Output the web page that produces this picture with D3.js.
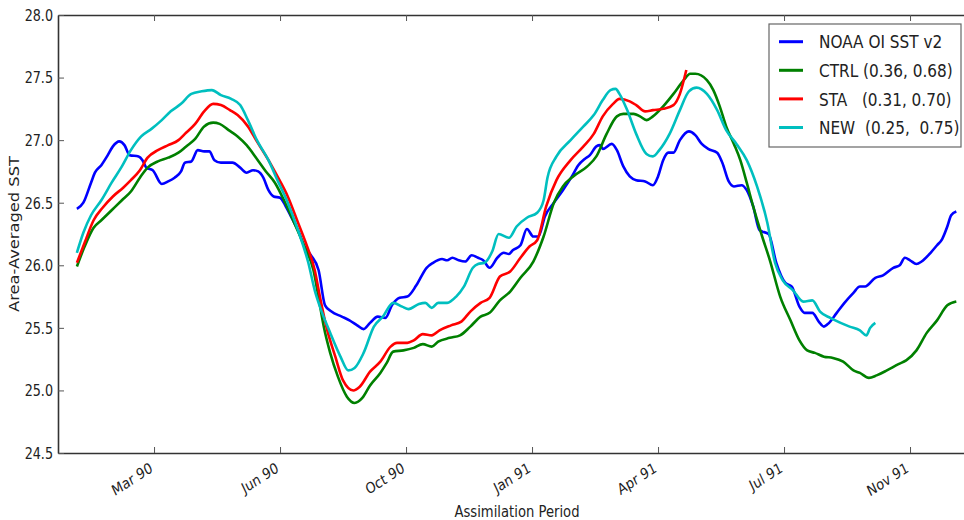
<!DOCTYPE html>
<html>
<head>
<meta charset="utf-8">
<script src="https://cdn.jsdelivr.net/npm/d3@7"></script>
<style>
  body { margin: 0; background: #fff; }
  text { font-family: "DejaVu Sans", sans-serif; fill: #222; }
  .legend text { white-space: pre; }
</style>
</head>
<body>
<svg id="chart" width="964" height="520"></svg>
<script>
// Area-averaged SST, [day since 1 Jan 1990, value]
const noaaData = [
  [22,26.45],[27,26.50],[33,26.66],[36,26.74],[41,26.80],[46,26.88],[50,26.95],[55,26.99],[59,26.96],[63,26.88],
  [70,26.87],[73,26.84],[76,26.78],[81,26.76],[88,26.65],[93,26.67],[98,26.70],[103,26.75],[106,26.82],[111,26.83],
  [116,26.92],[121,26.91],[125,26.91],[129,26.84],[134,26.82],[140,26.82],[143,26.82],[149,26.78],[154,26.74],[159,26.76],
  [163,26.75],[167,26.70],[171,26.60],[175,26.55],[180,26.54],[184,26.48],[189,26.38],[194,26.28],[199,26.15],[204,26.08],
  [210,25.96],[215,25.68],[220,25.63],[228,25.59],[234,25.56],[240,25.52],[245,25.49],[250,25.54],[256,25.59],[262,25.58],
  [267,25.68],[273,25.74],[279,25.75],[286,25.84],[294,25.98],[299,26.02],[306,26.05],[310,26.04],[314,26.06],[319,26.04],
  [324,26.03],[329,26.08],[334,26.06],[338,26.04],[343,25.98],[349,26.06],[354,26.10],[358,26.09],[361,26.12],[367,26.16],
  [372,26.29],[377,26.23],[381,26.23],[386,26.39],[393,26.50],[400,26.60],[407,26.71],[412,26.80],[417,26.85],[421,26.88],
  [426,26.95],[429,26.96],[431,26.93],[438,26.97],[442,26.92],[447,26.79],[452,26.71],[457,26.68],[464,26.67],[470,26.64],
  [474,26.71],[478,26.84],[482,26.90],[486,26.90],[491,27.00],[498,27.07],[503,27.04],[508,26.97],[513,26.93],[520,26.90],
  [524,26.82],[529,26.67],[533,26.63],[539,26.64],[543,26.60],[548,26.47],[553,26.28],[560,26.25],[566,26.02],[573,25.86],
  [578,25.83],[584,25.67],[588,25.62],[594,25.62],[599,25.55],[603,25.51],[606,25.53],[613,25.62],[619,25.70],[626,25.78],
  [631,25.83],[635,25.83],[643,25.90],[649,25.92],[657,25.98],[662,26.00],[666,26.06],[670,26.04],[675,26.01],[679,26.03],
  [686,26.10],[691,26.16],[695,26.21],[699,26.31],[702,26.40],[706,26.43]
];
const ctrlData = [
  [22,25.99],[28,26.15],[35,26.30],[41,26.36],[49,26.44],[57,26.52],[64,26.59],[71,26.70],[77,26.78],[85,26.83],
  [93,26.86],[101,26.90],[107,26.95],[114,27.01],[121,27.11],[128,27.14],[133,27.13],[140,27.08],[147,27.03],[154,26.96],
  [162,26.85],[169,26.75],[176,26.66],[184,26.50],[191,26.34],[199,26.15],[206,25.96],[210,25.74],[214,25.51],[219,25.30],
  [225,25.11],[232,24.95],[238,24.90],[244,24.94],[250,25.04],[258,25.14],[263,25.22],[268,25.31],[276,25.32],[284,25.34],
  [291,25.37],[298,25.35],[303,25.39],[312,25.42],[320,25.44],[328,25.51],[336,25.59],[343,25.62],[351,25.72],[359,25.79],
  [367,25.90],[377,26.03],[385,26.23],[393,26.50],[400,26.63],[408,26.71],[419,26.79],[426,26.87],[434,27.05],[442,27.19],
  [447,27.21],[455,27.21],[460,27.19],[465,27.16],[470,27.19],[478,27.27],[486,27.37],[494,27.48],[499,27.53],[503,27.53],
  [512,27.48],[517,27.40],[522,27.27],[527,27.11],[533,26.97],[538,26.84],[543,26.66],[548,26.47],[555,26.23],[561,26.04],
  [569,25.75],[577,25.56],[584,25.40],[590,25.32],[596,25.30],[603,25.27],[610,25.26],[618,25.23],[626,25.16],[631,25.14],
  [638,25.10],[644,25.12],[652,25.16],[661,25.21],[667,25.24],[675,25.32],[683,25.46],[691,25.56],[699,25.68],[706,25.71]
];
const staData = [
  [22,26.02],[28,26.18],[35,26.36],[42,26.46],[50,26.55],[58,26.62],[64,26.68],[71,26.76],[77,26.86],[85,26.92],
  [93,26.96],[101,27.00],[106,27.05],[114,27.13],[121,27.23],[128,27.29],[134,27.28],[141,27.24],[147,27.20],[155,27.11],
  [162,26.99],[171,26.84],[178,26.71],[186,26.55],[194,26.34],[200,26.18],[207,25.96],[211,25.75],[216,25.51],[223,25.27],
  [229,25.08],[237,25.00],[242,25.03],[250,25.15],[258,25.23],[266,25.35],[271,25.38],[279,25.38],[284,25.40],[291,25.45],
  [298,25.44],[304,25.48],[313,25.52],[321,25.55],[328,25.63],[336,25.70],[343,25.74],[351,25.91],[359,25.95],[367,26.06],
  [374,26.15],[380,26.20],[387,26.47],[395,26.68],[406,26.84],[416,26.95],[424,27.05],[431,27.19],[439,27.29],[444,27.33],
  [452,27.31],[457,27.28],[464,27.23],[470,27.24],[478,27.25],[486,27.28],[491,27.37],[496,27.56]
];
const newData = [
  [22,26.10],[27,26.26],[33,26.40],[41,26.52],[49,26.66],[57,26.79],[64,26.92],[72,27.03],[80,27.09],[88,27.16],
  [95,27.23],[103,27.29],[111,27.37],[119,27.39],[127,27.40],[134,27.36],[142,27.33],[149,27.28],[155,27.16],[162,27.00],
  [171,26.84],[178,26.68],[186,26.50],[194,26.28],[202,26.02],[207,25.80],[211,25.67],[219,25.46],[227,25.27],[233,25.16],
  [238,25.18],[245,25.30],[253,25.51],[260,25.59],[268,25.70],[275,25.67],[280,25.65],[288,25.69],[293,25.70],[298,25.66],
  [303,25.70],[310,25.70],[317,25.75],[323,25.83],[330,25.98],[334,26.01],[339,26.02],[345,26.11],[350,26.25],[358,26.22],
  [364,26.31],[372,26.38],[380,26.42],[385,26.52],[388,26.70],[395,26.87],[406,27.00],[416,27.11],[424,27.20],[431,27.32],
  [437,27.40],[441,27.41],[444,27.37],[450,27.24],[457,27.05],[465,26.89],[470,26.87],[475,26.92],[483,27.05],[491,27.24],
  [498,27.39],[504,27.42],[512,27.37],[520,27.24],[527,27.08],[535,26.97],[543,26.84],[551,26.63],[559,26.34],[565,26.02],
  [571,25.88],[579,25.80],[587,25.71],[594,25.72],[600,25.63],[608,25.58],[616,25.54],[623,25.51],[631,25.48],[636,25.44],
  [639,25.50],[643,25.54]
];

const seriesNames = ["NOAA OI SST v2", "CTRL (0.36, 0.68)", "STA   (0.31, 0.70)", "NEW  (0.25,  0.75)"];
const seriesColors = ["#0000ff", "#008000", "#ff0000", "#00bfbf"];

const tickDays = [82, 180, 278, 376, 474, 572, 670];
const tickLabels = ["Mar 90", "Jun 90", "Oct 90", "Jan 91", "Apr 91", "Jul 91", "Nov 91"];
const yTicks = [24.5, 25.0, 25.5, 26.0, 26.5, 27.0, 27.5, 28.0];

// the figure is squeezed sideways, so text is too
const squeeze = 0.85;

const svg = d3.select("#chart");
const plotLeft = 58, plotRight = 972, plotTop = 15, plotBottom = 453;

const x = d3.scaleLinear().domain([7.3, 718.2]).range([plotLeft, plotRight]);
const y = d3.scaleLinear().domain([24.5, 28]).range([plotBottom, plotTop]);

svg.append("rect").attr("width", 964).attr("height", 520).attr("fill", "#fff");

svg.append("clipPath").attr("id", "plot-clip")
   .append("rect")
   .attr("x", plotLeft).attr("y", plotTop)
   .attr("width", plotRight - plotLeft).attr("height", plotBottom - plotTop);

// Lines
const line = d3.line()
    .x(d => x(d[0]))
    .y(d => y(d[1]))
    .curve(d3.curveMonotoneX);

[noaaData, ctrlData, staData, newData].forEach((data, i) => {
  svg.append("path")
     .datum(data)
     .attr("clip-path", "url(#plot-clip)")
     .attr("fill", "none")
     .attr("stroke", seriesColors[i])
     .attr("stroke-width", 2.6)
     .attr("stroke-linejoin", "round")
     .attr("d", line);
});

// Axes, ticks point inward
const xAxis = svg.append("g")
    .attr("transform", `translate(0,${plotBottom})`)
    .call(d3.axisBottom(x).tickValues(tickDays).tickSizeInner(-6).tickSizeOuter(0)
            .tickFormat((d, i) => tickLabels[i]));

xAxis.selectAll(".tick text")
    .attr("y", null).attr("dy", null).attr("x", null)
    .attr("text-anchor", "end")
    .attr("font-size", 15)
    .attr("transform", `translate(-1,18) scale(${squeeze},1) rotate(-29)`);

svg.append("g")
    .attr("transform", `translate(0,${plotTop})`)
    .call(d3.axisTop(x).tickValues(tickDays).tickSizeInner(-6).tickSizeOuter(0).tickFormat(""));

const yAxis = svg.append("g")
    .attr("transform", `translate(${plotLeft},0)`)
    .call(d3.axisLeft(y).tickValues(yTicks).tickSizeInner(-6).tickSizeOuter(0)
            .tickFormat(d3.format(".1f")));

yAxis.selectAll(".tick text")
    .attr("x", null).attr("dy", "0.36em")
    .attr("font-size", 15)
    .attr("transform", `translate(-5,0) scale(${squeeze},1)`);

svg.selectAll(".tick line").attr("stroke", "#555").attr("stroke-width", 1);
svg.selectAll(".domain").attr("stroke", "#333").attr("stroke-width", 1.6);
svg.selectAll(".tick text").attr("fill", "#222");

// right spine (falls just outside the picture)
svg.append("line")
   .attr("x1", plotRight).attr("x2", plotRight).attr("y1", plotTop).attr("y2", plotBottom)
   .attr("stroke", "#333").attr("stroke-width", 1.6);

// Axis titles
svg.append("text")
   .attr("text-anchor", "middle")
   .attr("font-size", 15.5)
   .attr("transform", `translate(517,517) scale(${squeeze},1)`)
   .text("Assimilation Period");

svg.append("text")
   .attr("text-anchor", "middle")
   .attr("font-size", 16.3)
   .attr("transform", `translate(19,234) scale(${squeeze},1) rotate(-90)`)
   .text("Area-Averaged SST");

// Legend
const legend = svg.append("g").attr("class", "legend");
legend.append("rect")
   .attr("x", 769).attr("y", 24)
   .attr("width", 192).attr("height", 123)
   .attr("fill", "#fff")
   .attr("stroke", "#666")
   .attr("stroke-width", 1.2);

seriesNames.forEach((name, i) => {
  const rowY = 41.7 + i * 28.6;
  legend.append("line")
     .attr("x1", 779).attr("x2", 803)
     .attr("y1", rowY).attr("y2", rowY)
     .attr("stroke", seriesColors[i])
     .attr("stroke-width", 3);
  legend.append("text")
     .attr("font-size", 18)
     .attr("transform", `translate(819,${rowY + 6.6}) scale(${squeeze},1)`)
     .text(name);
});
</script>
</body>
</html>
